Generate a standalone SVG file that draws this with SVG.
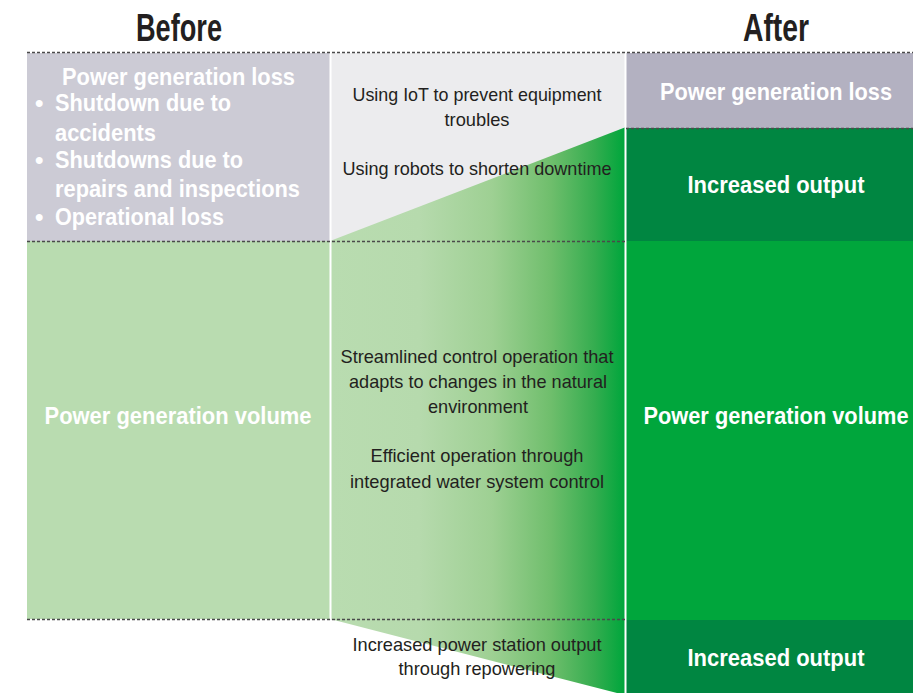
<svg xmlns="http://www.w3.org/2000/svg" width="913" height="693" viewBox="0 0 913 693">
<style>
.hd{font-family:"Liberation Sans",Arial,sans-serif;font-weight:bold;font-size:39px;fill:#231f20;text-anchor:middle}
.wb{font-family:"Liberation Sans",Arial,sans-serif;font-weight:bold;font-size:24px;fill:#ffffff}
.mid{font-family:"Liberation Sans",Arial,sans-serif;font-size:18.5px;fill:#231f20;text-anchor:middle}
.dash{stroke:#4a4a4a;stroke-width:1.3;stroke-dasharray:3,2;fill:none}
.sep{stroke:#ffffff;stroke-width:2;fill:none}
</style>
<defs>
<linearGradient id="grad" gradientUnits="userSpaceOnUse" x1="331" y1="0" x2="624" y2="0">
<stop offset="0" stop-color="#b9dcb0"/>
<stop offset="0.3" stop-color="#b6daad"/>
<stop offset="0.55" stop-color="#9ed093"/>
<stop offset="0.75" stop-color="#6fbe6c"/>
<stop offset="0.9" stop-color="#34ad4f"/>
<stop offset="1" stop-color="#00a63c"/>
</linearGradient>
</defs>
<rect width="913" height="693" fill="#ffffff"/>
<text class="hd" x="179" y="41" textLength="86" lengthAdjust="spacingAndGlyphs">Before</text>
<text class="hd" x="776" y="41" textLength="66" lengthAdjust="spacingAndGlyphs">After</text>
<g id="before-loss">
<rect x="27" y="53" width="303" height="188" fill="#cccbd5"/>
<text class="wb" x="62" y="85" textLength="233" lengthAdjust="spacingAndGlyphs">Power generation loss</text>
<text class="wb" x="35" y="111">•</text>
<text class="wb" x="55" y="111" textLength="176" lengthAdjust="spacingAndGlyphs">Shutdown due to</text>
<text class="wb" x="55" y="141" textLength="101" lengthAdjust="spacingAndGlyphs">accidents</text>
<text class="wb" x="35" y="168">•</text>
<text class="wb" x="55" y="168" textLength="188" lengthAdjust="spacingAndGlyphs">Shutdowns due to</text>
<text class="wb" x="55" y="197" textLength="245" lengthAdjust="spacingAndGlyphs">repairs and inspections</text>
<text class="wb" x="35" y="225">•</text>
<text class="wb" x="55" y="225" textLength="169" lengthAdjust="spacingAndGlyphs">Operational loss</text>
</g>
<g id="before-volume">
<rect x="27" y="241" width="303" height="378" fill="#b9dcb0"/>
<text class="wb" x="178" y="424" text-anchor="middle" textLength="267" lengthAdjust="spacingAndGlyphs">Power generation volume</text>
</g>
<g id="middle">
<rect x="330" y="53" width="296" height="188" fill="#ececee"/>
<polygon points="330,241 626,127 626,693 617,693 330,619" fill="url(#grad)"/>
<text class="mid" x="477" y="101" textLength="249" lengthAdjust="spacingAndGlyphs">Using IoT to prevent equipment</text>
<text class="mid" x="477" y="126" textLength="65" lengthAdjust="spacingAndGlyphs">troubles</text>
<text class="mid" x="477" y="175" textLength="269" lengthAdjust="spacingAndGlyphs">Using robots to shorten downtime</text>
<text class="mid" x="477" y="363" textLength="273" lengthAdjust="spacingAndGlyphs">Streamlined control operation that</text>
<text class="mid" x="478" y="388" textLength="258" lengthAdjust="spacingAndGlyphs">adapts to changes in the natural</text>
<text class="mid" x="478" y="413" textLength="100" lengthAdjust="spacingAndGlyphs">environment</text>
<text class="mid" x="477" y="462" textLength="213" lengthAdjust="spacingAndGlyphs">Efficient operation through</text>
<text class="mid" x="477" y="488" textLength="254" lengthAdjust="spacingAndGlyphs">integrated water system control</text>
<text class="mid" x="477" y="651" textLength="249" lengthAdjust="spacingAndGlyphs">Increased power station output</text>
<text class="mid" x="477" y="675" textLength="157" lengthAdjust="spacingAndGlyphs">through repowering</text>
</g>
<g id="after-loss">
<rect x="626" y="53" width="287" height="75" fill="#b3b1c1"/>
<text class="wb" x="776" y="100" text-anchor="middle" textLength="232" lengthAdjust="spacingAndGlyphs">Power generation loss</text>
</g>
<g id="after-increase1">
<rect x="626" y="128" width="287" height="113" fill="#008641"/>
<text class="wb" x="776" y="193" text-anchor="middle" textLength="177" lengthAdjust="spacingAndGlyphs">Increased output</text>
</g>
<g id="after-volume">
<rect x="626" y="241" width="287" height="379" fill="#00a63c"/>
<text class="wb" x="776" y="424" text-anchor="middle" textLength="265" lengthAdjust="spacingAndGlyphs">Power generation volume</text>
</g>
<g id="after-increase2">
<rect x="626" y="620" width="287" height="73" fill="#008641"/>
<text class="wb" x="776" y="666" text-anchor="middle" textLength="177" lengthAdjust="spacingAndGlyphs">Increased output</text>
</g>
<g id="connectors">
<line class="sep" x1="330.5" y1="53" x2="330.5" y2="619"/>
<line class="sep" x1="625.5" y1="53" x2="625.5" y2="693"/>
<line class="dash" x1="27" y1="52.5" x2="913" y2="52.5"/>
<line class="dash" x1="626" y1="128.5" x2="913" y2="128.5"/>
<line class="dash" x1="27" y1="241.5" x2="625" y2="241.5"/>
<line class="dash" x1="27" y1="619.5" x2="625" y2="619.5"/>
</g>
</svg>
